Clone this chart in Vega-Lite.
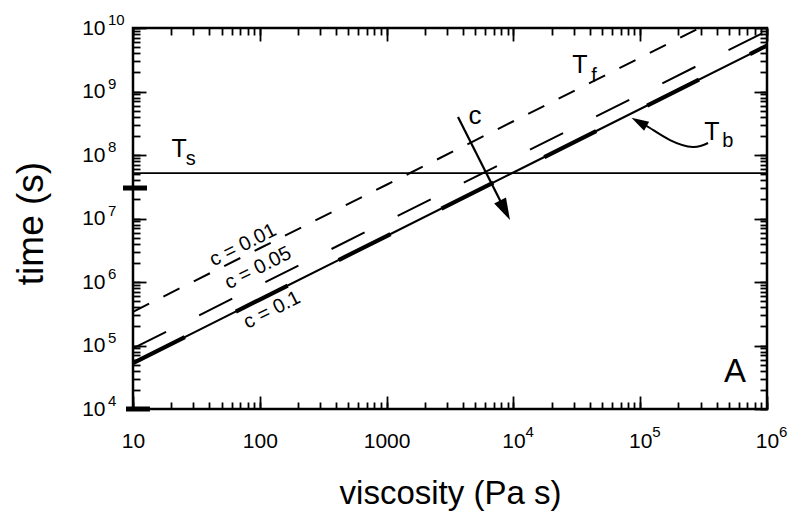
{
  "$schema": "https://vega.github.io/schema/vega-lite/v6.json",
  "width": 634,
  "height": 381,
  "autosize": {"type": "none"},
  "padding": {"left": 133, "top": 28, "right": 23, "bottom": 112},
  "background": "white",
  "config": {
    "view": {"stroke": "black", "strokeWidth": 2.5},
    "font": "Liberation Sans",
    "text": {"font": "Liberation Sans", "color": "black"}
  },
  "datasets": {
    "tf": [
      {"eta": 10, "t": 340000}, {"eta": 100, "t": 3400000}, {"eta": 1000, "t": 34000000},
      {"eta": 10000, "t": 340000000}, {"eta": 100000, "t": 3400000000}, {"eta": 294000, "t": 10000000000}
    ],
    "c05": [
      {"eta": 10, "t": 90000}, {"eta": 100, "t": 900000}, {"eta": 1000, "t": 9000000},
      {"eta": 10000, "t": 90000000}, {"eta": 100000, "t": 900000000}, {"eta": 1000000, "t": 9000000000}
    ],
    "c10": [
      {"eta": 10, "t": 53000}, {"eta": 100, "t": 530000}, {"eta": 1000, "t": 5300000},
      {"eta": 10000, "t": 53000000}, {"eta": 100000, "t": 530000000}, {"eta": 1000000, "t": 5300000000}
    ],
    "ts": [{"eta": 10, "t": 52000000}, {"eta": 1000000, "t": 52000000}],
    "bars": [
      {"bar": "a", "eta": 8.34, "t": 30200000}, {"bar": "a", "eta": 12.9, "t": 30200000},
      {"bar": "b", "eta": 8.81, "t": 10000}, {"bar": "b", "eta": 13.6, "t": 10000}
    ],
    "clabels": [
      {"eta": 73.7, "t": 3830000, "text": "c = 0.01"},
      {"eta": 96.8, "t": 1660000, "text": "c = 0.05"},
      {"eta": 124.8, "t": 362000, "text": "c = 0.1"}
    ],
    "bigT": [
      {"eta": 23.1, "t": 124000000, "text": "T"},
      {"eta": 33500, "t": 2610000000, "text": "T"},
      {"eta": 368000, "t": 230000000, "text": "T"}
    ],
    "subs": [
      {"eta": 28.6, "t": 86500000, "text": "s"},
      {"eta": 43300, "t": 1750000000, "text": "f"},
      {"eta": 490000, "t": 166000000, "text": "b"}
    ],
    "panel": [{"eta": 560000, "t": 38300, "text": "A"}],
    "carrowlabel": [{"eta": 4980, "t": 411000000, "text": "c"}],
    "carrow": [{"eta": 3656, "t": 396000000}, {"eta": 8590, "t": 13500000}],
    "carrowhead": [{"eta": 8590, "t": 13500000}],
    "tbcurve": [
      {"i": 0, "eta": 342700, "t": 154500000},
      {"i": 1, "eta": 260600, "t": 133700000},
      {"i": 2, "eta": 171800, "t": 172000000},
      {"i": 3, "eta": 119400, "t": 266000000},
      {"i": 4, "eta": 97900, "t": 331000000}
    ],
    "tbhead": [{"eta": 97900, "t": 331000000}],
    "xexp": [
      {"eta": 10000, "t": 10000, "text": "4"},
      {"eta": 100000, "t": 10000, "text": "5"},
      {"eta": 1000000, "t": 10000, "text": "6"}
    ],
    "yexp": [
      {"eta": 10, "t": 10000, "text": "4"},
      {"eta": 10, "t": 100000, "text": "5"},
      {"eta": 10, "t": 1000000, "text": "6"},
      {"eta": 10, "t": 10000000, "text": "7"},
      {"eta": 10, "t": 100000000, "text": "8"},
      {"eta": 10, "t": 1000000000, "text": "9"},
      {"eta": 10, "t": 10000000000, "text": "10"}
    ]
  },
  "resolve": {"axis": {"x": "independent", "y": "independent"}},
  "layer": [
    {
      "data": {"name": "c10"},
      "mark": {"type": "line", "color": "black", "strokeWidth": 2, "clip": true},
      "encoding": {
        "x": {
          "field": "eta", "type": "quantitative",
          "scale": {"type": "log", "domain": [10, 1000000], "nice": false},
          "axis": {
            "orient": "bottom",
            "values": [10,20,30,40,50,60,70,80,90,100,200,300,400,500,600,700,800,900,1000,2000,3000,4000,5000,6000,7000,8000,9000,10000,20000,30000,40000,50000,60000,70000,80000,90000,100000,200000,300000,400000,500000,600000,700000,800000,900000,1000000],
            "labelExpr": "datum.value == 10 ? '10' : datum.value == 100 ? '100' : datum.value == 1000 ? '1000' : (datum.value == 10000 || datum.value == 100000 || datum.value == 1000000) ? '10' : ''",
            "tickSize": -7,
            "tickColor": "black", "tickWidth": 1.8,
            "domain": false, "grid": false,
            "labelFont": "Liberation Sans", "labelFontSize": 21, "labelColor": "black",
            "labelPadding": 28, "labelOverlap": false, "labelFlush": false,
            "title": "viscosity (Pa s)",
            "titleFont": "Liberation Sans", "titleFontSize": 33, "titleFontWeight": "normal", "titleColor": "black",
            "titleBaseline": "alphabetic", "titleY": 94, "titleX": 317, "titleAlign": "center"
          }
        },
        "y": {
          "field": "t", "type": "quantitative",
          "scale": {"type": "log", "domain": [10000, 10000000000], "nice": false},
          "axis": {
            "orient": "left",
            "values": [10000,20000,30000,40000,50000,60000,70000,80000,90000,100000,200000,300000,400000,500000,600000,700000,800000,900000,1000000,2000000,3000000,4000000,5000000,6000000,7000000,8000000,9000000,10000000,20000000,30000000,40000000,50000000,60000000,70000000,80000000,90000000,100000000,200000000,300000000,400000000,500000000,600000000,700000000,800000000,900000000,1000000000,2000000000,3000000000,4000000000,5000000000,6000000000,7000000000,8000000000,9000000000,10000000000],
            "labelExpr": "(datum.value == 10000 || datum.value == 100000 || datum.value == 1000000 || datum.value == 10000000 || datum.value == 100000000 || datum.value == 1000000000 || datum.value == 10000000000) ? '10' : ''",
            "tickSize": -7,
            "tickColor": "black", "tickWidth": 1.8,
            "domain": false, "grid": false,
            "labelFont": "Liberation Sans", "labelFontSize": 21, "labelColor": "black",
            "labelPadding": 35,
            "labelOverlap": false, "labelFlush": false, "labelBaseline": "middle",
            "title": "time (s)",
            "titleFont": "Liberation Sans", "titleFontSize": 37, "titleFontWeight": "normal", "titleColor": "black",
            "titleAngle": -90, "titleBaseline": "alphabetic", "titleAlign": "center", "titleX": -91, "titleY": 195
          }
        }
      }
    },
    {
      "data": {"name": "c10"},
      "mark": {"type": "line", "color": "black", "strokeWidth": 4.2, "strokeDash": [58, 57], "clip": true},
      "encoding": {
        "x": {"field": "eta", "type": "quantitative",
          "axis": {"orient": "top", "values": [10,20,30,40,50,60,70,80,90,100,200,300,400,500,600,700,800,900,1000,2000,3000,4000,5000,6000,7000,8000,9000,10000,20000,30000,40000,50000,60000,70000,80000,90000,100000,200000,300000,400000,500000,600000,700000,800000,900000,1000000],
            "labels": false, "title": null, "domain": false, "grid": false,
            "tickSize": -7, "tickColor": "black", "tickWidth": 1.8}},
        "y": {"field": "t", "type": "quantitative",
          "axis": {"orient": "right", "values": [10000,20000,30000,40000,50000,60000,70000,80000,90000,100000,200000,300000,400000,500000,600000,700000,800000,900000,1000000,2000000,3000000,4000000,5000000,6000000,7000000,8000000,9000000,10000000,20000000,30000000,40000000,50000000,60000000,70000000,80000000,90000000,100000000,200000000,300000000,400000000,500000000,600000000,700000000,800000000,900000000,1000000000,2000000000,3000000000,4000000000,5000000000,6000000000,7000000000,8000000000,9000000000,10000000000],
            "labels": false, "title": null, "domain": false, "grid": false,
            "tickSize": -7, "tickColor": "black", "tickWidth": 1.8}}
      }
    },
    {
      "data": {"name": "c05"},
      "mark": {"type": "line", "color": "black", "strokeWidth": 2, "strokeDash": [37, 37], "clip": true},
      "encoding": {
        "x": {"field": "eta", "type": "quantitative",
          "axis": {"orient": "bottom", "values": [10,100,1000,10000,100000,1000000],
            "labels": false, "title": null, "domain": false, "grid": false,
            "tickSize": -13, "tickColor": "black", "tickWidth": 1.8}},
        "y": {"field": "t", "type": "quantitative",
          "axis": {"orient": "left", "values": [10000,100000,1000000,10000000,100000000,1000000000,10000000000],
            "labels": false, "title": null, "domain": false, "grid": false,
            "tickSize": -13, "tickColor": "black", "tickWidth": 1.8}}
      }
    },
    {
      "data": {"name": "tf"},
      "mark": {"type": "line", "color": "black", "strokeWidth": 2, "strokeDash": [18, 16], "clip": true},
      "encoding": {
        "x": {"field": "eta", "type": "quantitative",
          "axis": {"orient": "top", "values": [10,100,1000,10000,100000,1000000],
            "labels": false, "title": null, "domain": false, "grid": false,
            "tickSize": -13, "tickColor": "black", "tickWidth": 1.8}},
        "y": {"field": "t", "type": "quantitative",
          "axis": {"orient": "right", "values": [10000,100000,1000000,10000000,100000000,1000000000,10000000000],
            "labels": false, "title": null, "domain": false, "grid": false,
            "tickSize": -13, "tickColor": "black", "tickWidth": 1.8}}
      }
    },
    {
      "data": {"name": "ts"},
      "mark": {"type": "line", "color": "black", "strokeWidth": 1.8, "clip": true},
      "encoding": {
        "x": {"field": "eta", "type": "quantitative", "axis": null},
        "y": {"field": "t", "type": "quantitative", "axis": null}
      }
    },
    {
      "data": {"name": "bars"},
      "mark": {"type": "line", "color": "black", "strokeWidth": 5},
      "encoding": {
        "x": {"field": "eta", "type": "quantitative", "axis": null},
        "y": {"field": "t", "type": "quantitative", "axis": null},
        "detail": {"field": "bar"}
      }
    },
    {
      "data": {"name": "carrow"},
      "mark": {"type": "line", "color": "black", "strokeWidth": 2.2},
      "encoding": {
        "x": {"field": "eta", "type": "quantitative", "axis": null},
        "y": {"field": "t", "type": "quantitative", "axis": null}
      }
    },
    {
      "data": {"name": "carrowhead"},
      "mark": {"type": "point", "shape": "M0,1L-0.6,-1L0.6,-1Z", "size": 484, "filled": true, "color": "black", "opacity": 1, "angle": -26.8},
      "encoding": {
        "x": {"field": "eta", "type": "quantitative", "axis": null},
        "y": {"field": "t", "type": "quantitative", "axis": null}
      }
    },
    {
      "data": {"name": "tbcurve"},
      "mark": {"type": "line", "color": "black", "strokeWidth": 2, "interpolate": "natural"},
      "encoding": {
        "x": {"field": "eta", "type": "quantitative", "axis": null},
        "y": {"field": "t", "type": "quantitative", "axis": null},
        "order": {"field": "i"}
      }
    },
    {
      "data": {"name": "tbhead"},
      "mark": {"type": "point", "shape": "M0,1L-0.6,-1L0.6,-1Z", "size": 300, "filled": true, "color": "black", "opacity": 1, "angle": 119},
      "encoding": {
        "x": {"field": "eta", "type": "quantitative", "axis": null},
        "y": {"field": "t", "type": "quantitative", "axis": null}
      }
    },
    {
      "data": {"name": "clabels"},
      "mark": {"type": "text", "fontSize": 20, "angle": -26.6, "align": "center", "baseline": "middle", "color": "black"},
      "encoding": {
        "x": {"field": "eta", "type": "quantitative", "axis": null},
        "y": {"field": "t", "type": "quantitative", "axis": null},
        "text": {"field": "text"}
      }
    },
    {
      "data": {"name": "bigT"},
      "mark": {"type": "text", "fontSize": 25, "align": "center", "baseline": "middle", "color": "black"},
      "encoding": {
        "x": {"field": "eta", "type": "quantitative", "axis": null},
        "y": {"field": "t", "type": "quantitative", "axis": null},
        "text": {"field": "text"}
      }
    },
    {
      "data": {"name": "subs"},
      "mark": {"type": "text", "fontSize": 20, "align": "center", "baseline": "middle", "color": "black"},
      "encoding": {
        "x": {"field": "eta", "type": "quantitative", "axis": null},
        "y": {"field": "t", "type": "quantitative", "axis": null},
        "text": {"field": "text"}
      }
    },
    {
      "data": {"name": "panel"},
      "mark": {"type": "text", "fontSize": 33, "align": "center", "baseline": "middle", "color": "black"},
      "encoding": {
        "x": {"field": "eta", "type": "quantitative", "axis": null},
        "y": {"field": "t", "type": "quantitative", "axis": null},
        "text": {"field": "text"}
      }
    },
    {
      "data": {"name": "carrowlabel"},
      "mark": {"type": "text", "fontSize": 26, "align": "center", "baseline": "middle", "color": "black"},
      "encoding": {
        "x": {"field": "eta", "type": "quantitative", "axis": null},
        "y": {"field": "t", "type": "quantitative", "axis": null},
        "text": {"field": "text"}
      }
    },
    {
      "data": {"name": "xexp"},
      "mark": {"type": "text", "fontSize": 15, "align": "left", "baseline": "middle", "dx": 12, "dy": 23, "color": "black"},
      "encoding": {
        "x": {"field": "eta", "type": "quantitative", "axis": null},
        "y": {"field": "t", "type": "quantitative", "axis": null},
        "text": {"field": "text"}
      }
    },
    {
      "data": {"name": "yexp"},
      "mark": {"type": "text", "fontSize": 15, "align": "left", "baseline": "middle", "dx": -25, "dy": -8, "color": "black"},
      "encoding": {
        "x": {"field": "eta", "type": "quantitative", "axis": null},
        "y": {"field": "t", "type": "quantitative", "axis": null},
        "text": {"field": "text"}
      }
    }
  ]
}
